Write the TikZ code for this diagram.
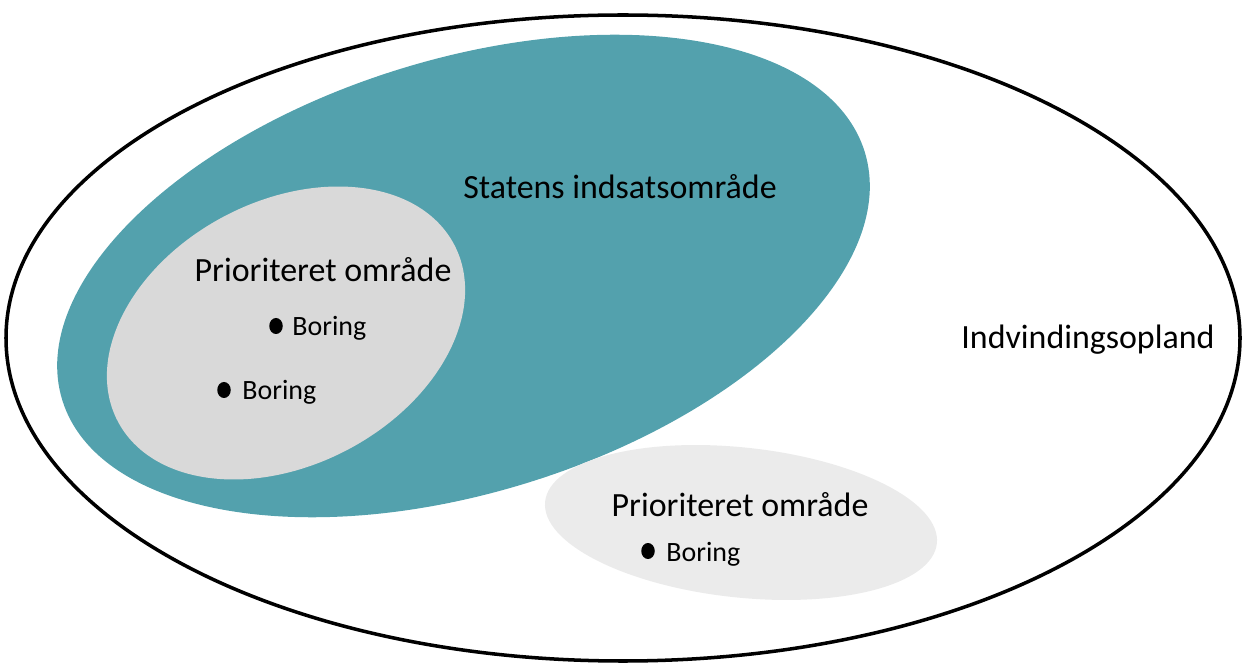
\documentclass[tikz,border=0pt]{standalone}
\usepackage{fontspec}
\setmainfont{Carlito}
\usepackage{xcolor}
\usepackage{tikz}
\usetikzlibrary{shapes.geometric,positioning,calc}

\definecolor{indsatsteal}{RGB}{83,161,173}
\definecolor{priogray}{RGB}{217,217,217}
\definecolor{priolight}{RGB}{235,235,235}

\begin{document}
\begin{tikzpicture}[
    region/.style={ellipse, inner sep=0pt, draw=none},
    label/.style={font=\fontsize{19.3}{22}\selectfont, inner sep=0pt},
    boring/.style={font=\fontsize{15.9}{18}\selectfont, inner sep=0pt, anchor=west},
    dot/.style={ellipse, fill=black, inner sep=0pt, minimum width=0.27cm, minimum height=0.32cm}
]
    \useasboundingbox (0,0) rectangle (24.88,13.36);

    % Indvindingsopland
    \node[region, draw=black, line width=2pt, minimum width=24.68cm, minimum height=12.92cm] (opland) at (12.46,6.6) {};
    % Statens indsatsomraade
    \node[region, fill=indsatsteal, minimum width=16.8cm, minimum height=8.66cm, rotate=17.2] (indsats) at (9.27,7.84) {};
    % Prioriterede omraader
    \node[region, fill=priogray, minimum width=7.6cm, minimum height=5.28cm, rotate=27.7] (prioA) at (5.72,6.7) {};
    \node[region, fill=priolight, minimum width=7.88cm, minimum height=3.0cm, rotate=-6.1] (prioB) at (14.82,2.91) {};

    \node[label] (indsatsTxt) at (12.4,9.62) {Statens indsatsområde};
    \node[label] (oplandTxt) at (21.76,6.56) {Indvindingsopland};
    \node[label] (prioATxt) at (6.46,7.96) {Prioriteret område};
    \node[label] (prioBTxt) at (14.8,3.26) {Prioriteret område};

    % Boringer
    \node[dot] (dotA) at (5.52,6.84) {};
    \node[boring] (borA) at (5.84,6.8) {Boring};
    \node[dot] (dotB) at (4.48,5.56) {};
    \node[boring] (borB) at (4.84,5.52) {Boring};
    \node[dot] (dotC) at (12.96,2.34) {};
    \node[boring] (borC) at (13.32,2.28) {Boring};
\end{tikzpicture}
\end{document}
